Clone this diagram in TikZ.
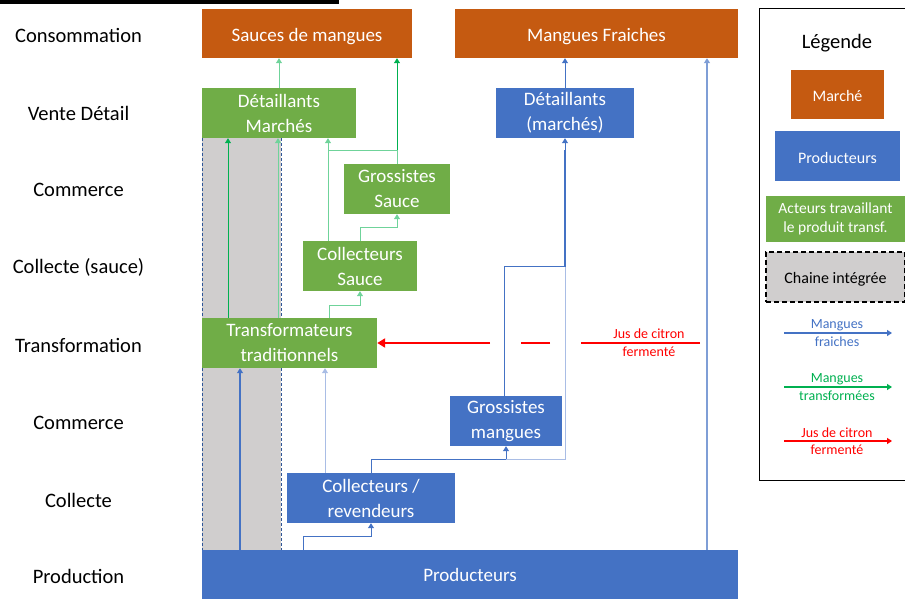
\documentclass[tikz,border=0pt]{standalone}
\usepackage{fontspec}
\setmainfont{Carlito}
\usetikzlibrary{arrows.meta}
\definecolor{orng}{HTML}{C55A11}
\definecolor{blu}{HTML}{4472C4}
\definecolor{grn}{HTML}{70AD47}
\definecolor{ag}{HTML}{00B050}
\definecolor{agl}{HTML}{6FD39A}
\definecolor{blul}{HTML}{A9BDE5}
\definecolor{blum}{HTML}{7F9ED6}
\definecolor{gry}{HTML}{D0CECE}
\definecolor{dashblue}{HTML}{2F5597}
\definecolor{rd}{HTML}{FF0000}
\begin{document}
\begin{tikzpicture}[x=1pt,y=-1pt,
  box/.style={rectangle,inner sep=0pt,text=white,align=center,
    font=\fontsize{19}{25}\selectfont},
  lbox/.style={rectangle,inner sep=0pt,text=white,align=center,
    font=\fontsize{16}{22}\selectfont},
  lvl/.style={font=\fontsize{20.5}{24}\selectfont,text=black},
  tip/.style={-{Triangle[length=5pt,width=6pt]}},
  garr/.style={tip,draw=ag,line width=0.8pt},
  garrl/.style={tip,draw=agl,line width=0.8pt},
  barr/.style={tip,draw=blu,line width=1pt},
  barrl/.style={tip,draw=blul,line width=1pt},
  small/.style={font=\fontsize{14}{17}\selectfont,align=center}
]
\useasboundingbox (0,0) rectangle (905,599);
% top black bar
\fill[black] (0,0) rectangle (339,4);
% integrated chain background
\fill[gry] (202,138) rectangle (281,550);
\draw[dashblue,line width=0.8pt,dash pattern=on 3pt off 2pt] (202,138) -- (202,550);
\draw[dashblue,line width=0.8pt,dash pattern=on 3pt off 2pt] (281,138) -- (281,550);

% level labels
\node[lvl] (l1) at (78.5,35) {Consommation};
\node[lvl] (l2) at (78.5,113) {Vente Détail};
\node[lvl] (l3) at (78.5,190) {Commerce};
\node[lvl] (l4) at (78.5,267) {Collecte (sauce)};
\node[lvl] (l5) at (78.5,345) {Transformation};
\node[lvl] (l6) at (78.5,423) {Commerce};
\node[lvl] (l7) at (78.5,500) {Collecte};
\node[lvl] (l8) at (78.5,576) {Production};

% boxes
\node[box,fill=orng,minimum width=210pt,minimum height=49pt,text height=16pt,text depth=0pt] (sauce) at (307,33.5) {Sauces de mangues};
\node[box,fill=orng,minimum width=283pt,minimum height=49pt,text height=16pt,text depth=0pt] (mfr) at (596.5,33.5) {Mangues Fraiches};
\node[box,fill=grn,minimum width=154pt,minimum height=50pt] (detm) at (279,113) {Détaillants\\Marchés};
\node[box,fill=blu,minimum width=138pt,minimum height=50pt] (detb) at (565,113) {Détaillants\\(marchés)};
\node[box,fill=grn,minimum width=106pt,minimum height=50pt] (gross) at (397,189) {Grossistes\\Sauce};
\node[box,fill=grn,minimum width=114pt,minimum height=50pt] (colls) at (360,266) {Collecteurs\\Sauce};
\node[box,fill=grn,minimum width=175pt,minimum height=50pt] (trans) at (289.5,343) {Transformateurs\\traditionnels};
\node[box,fill=blu,minimum width=112pt,minimum height=50pt] (grm) at (506,421) {Grossistes\\mangues};
\node[box,fill=blu,minimum width=168pt,minimum height=50pt] (colr) at (371,498) {Collecteurs /\\revendeurs};
\node[box,fill=blu,minimum width=536pt,minimum height=49pt] (prod) at (470,574.5) {Producteurs};

% x reference coordinates
\coordinate (x228) at (228,0);
\coordinate (x240) at (240,0);
\coordinate (x278) at (278,0);
\coordinate (x279) at (279,0);
\coordinate (x303) at (303,0);
\coordinate (x325) at (325,0);
\coordinate (x328) at (328,0);
\coordinate (x329) at (329,0);
\coordinate (x360) at (360,0);
\coordinate (x371) at (371,0);
\coordinate (x397) at (397,0);
\coordinate (x504) at (504,0);
\coordinate (x506) at (506,0);
\coordinate (x565) at (565,0);
\coordinate (x707) at (707,0);

% green connectors
\draw[garrl] (x279 |- detm.north) -- (x279 |- sauce.south);
\draw[garr] (x397 |- gross.north) -- (x397 |- sauce.south);
\draw[draw=agl,line width=0.8pt] (x397 |- gross.north) -- (397,150) -- (328,150);
\draw[garrl] (x328 |- colls.north) -- (x328 |- detm.south);
\draw[garrl] (x360 |- colls.north) -- (360,227) -- (397,227) -- (x397 |- gross.south);
\draw[garrl] (x329 |- trans.north) -- (329,305) -- (360,305) -- (x360 |- colls.south);
\draw[garrl] (x278 |- trans.north) -- (x278 |- detm.south);
\draw[garr] (x228 |- trans.north) -- (x228 |- detm.south);

% blue connectors
\draw[barr,line width=1.4pt] (x240 |- prod.north) -- (x240 |- trans.south);
\draw[barrl] (x325 |- colr.north) -- (x325 |- trans.south);
\draw[barr] (x303 |- prod.north) -- (303,536) -- (371,536) -- (x371 |- colr.south);
\draw[barr] (x371 |- colr.north) -- (371,459) -- (506,459) -- (x506 |- grm.south);
\draw[draw=blul,line width=1pt] (506,459) -- (565,459) -- (565,266);
\draw[barr] (x504 |- grm.north) -- (504,266) -- (565,266) -- (x565 |- detb.south);
\draw[draw=blu,line width=1.6pt] (565,266) -- (565,150);
\draw[barr] (x565 |- detb.north) -- (x565 |- mfr.south);
\draw[tip,draw=blum,line width=2pt] (x707 |- prod.north) -- (x707 |- mfr.south);

% red connector
\coordinate (jstart) at (700,343);
\coordinate (g1a) at (581,343);
\coordinate (g1b) at (550,343);
\coordinate (g2a) at (521,343);
\coordinate (g2b) at (490,343);
\draw[rd,line width=2.6pt] (jstart) -- (g1a);
\draw[rd,line width=2.6pt] (g1b) -- (g2a);
\draw[rd,line width=2.6pt,-{Triangle[length=8pt,width=9pt]}] (g2b) -- (trans.east);
\node[small,text=rd] (jl1) at (649,334) {Jus de citron};
\node[small,text=rd] (jl2) at (649,352) {fermenté};

% legend
\draw[black,line width=1pt] (759,9) rectangle (908,480);
\node[font=\fontsize{20.5}{24}\selectfont] (leg) at (837,43) {Légende};
\node[lbox,fill=orng,minimum width=93pt,minimum height=49pt,text height=14.4pt,text depth=0pt] (lm) at (837.5,94.5) {Marché};
\node[lbox,fill=blu,minimum width=125pt,minimum height=50pt,text height=14.4pt,text depth=0pt] (lp) at (837.5,156) {Producteurs};
\node[lbox,fill=grn,minimum width=139pt,minimum height=46pt,font=\fontsize{15.5}{18.5}\selectfont] (la) at (835.5,219) {Acteurs travaillant\\le produit transf.};
\node[lbox,fill=gry,draw=black,dash pattern=on 5pt off 3pt,line width=1.2pt,text=black,minimum width=139pt,minimum height=50pt,text height=12.5pt,text depth=0pt] (lc) at (835.5,277) {Chaine intégrée};
\coordinate (ab1) at (784,333);
\coordinate (ab2) at (892,333);
\coordinate (ag1) at (784,387);
\coordinate (ag2) at (892,387);
\coordinate (ar1) at (784,441);
\coordinate (ar2) at (892,441);
\draw[tip,draw=blu,line width=1.6pt] (ab1) -- (ab2);
\node[small,text=blu] (lt1) at (837,325) {Mangues};
\node[small,text=blu] (lt2) at (837,342) {fraiches};
\draw[tip,draw=ag,line width=1.6pt] (ag1) -- (ag2);
\node[small,text=ag] (lt3) at (837,379) {Mangues};
\node[small,text=ag] (lt4) at (837,396) {transformées};
\draw[tip,draw=rd,line width=1.6pt] (ar1) -- (ar2);
\node[small,text=rd] (lt5) at (837,433) {Jus de citron};
\node[small,text=rd] (lt6) at (837,450) {fermenté};
\end{tikzpicture}
\end{document}
